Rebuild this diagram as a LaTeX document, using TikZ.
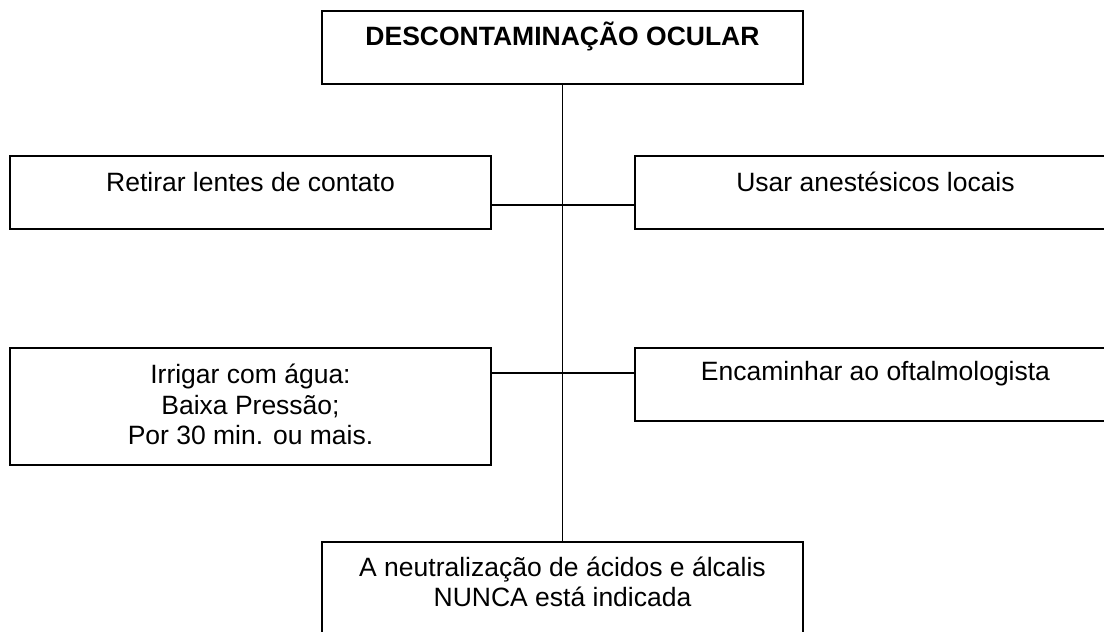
\documentclass[tikz,border=0pt]{standalone}
\usepackage{fontspec}
\setmainfont{Liberation Sans}
\begin{document}
\begin{tikzpicture}[x=1pt,y=-1pt,
  box/.style={draw=black, line width=1.8pt, rectangle, inner sep=0pt, fill=white},
  txt/.style={inner sep=0pt, align=center, font=\fontsize{26.5}{30.5}\selectfont},
  conn/.style={draw=black, line width=1.4pt}]
\useasboundingbox (0,0) rectangle (1104,632);
\clip (0,0) rectangle (1104,632);
\fill[white] (0,0) rectangle (1104,632);
% boxes
\node[box, minimum width=481pt, minimum height=73pt] (top) at (562.5,47.5) {};
\node[box, minimum width=481pt, minimum height=73pt] (b1L) at (250.5,192.5) {};
\node[box, minimum width=481pt, minimum height=73pt] (b1R) at (875.5,192.5) {};
\node[box, minimum width=481pt, minimum height=117pt] (b2L) at (250.5,406.5) {};
\node[box, minimum width=481pt, minimum height=73pt] (b2R) at (875.5,384.5) {};
\node[box, minimum width=481pt, minimum height=120pt] (bot) at (562.5,602) {};
% texts
\node[txt, font=\fontsize{26.5}{30.5}\selectfont\bfseries] (ttop) at (562.5,36) {DESCONTAMINAÇÃO OCULAR};
\node[txt] (t1L) at (250.5,182) {Retirar lentes de contato};
\node[txt] (t1R) at (875.5,182) {Usar anestésicos locais};
\node[txt] (t2L) at (250.5,404.5) {Irrigar com água:\\Baixa Pressão;\\Por 30 min. ou mais.};
\node[txt] (t2R) at (875.5,374) {Encaminhar ao oftalmologista};
\node[txt] (tbot) at (562.5,582) {A neutralização de ácidos e álcalis\\NUNCA está indicada};
% connectors
\coordinate (j1) at (562.5,205);
\coordinate (j2) at (562.5,373);
\draw[conn] (top.south) -- (bot.north);
\draw[conn] (b1L.east |- j1) -- (b1R.west |- j1);
\draw[conn] (b2L.east |- j2) -- (b2R.west |- j2);
\end{tikzpicture}
\end{document}
